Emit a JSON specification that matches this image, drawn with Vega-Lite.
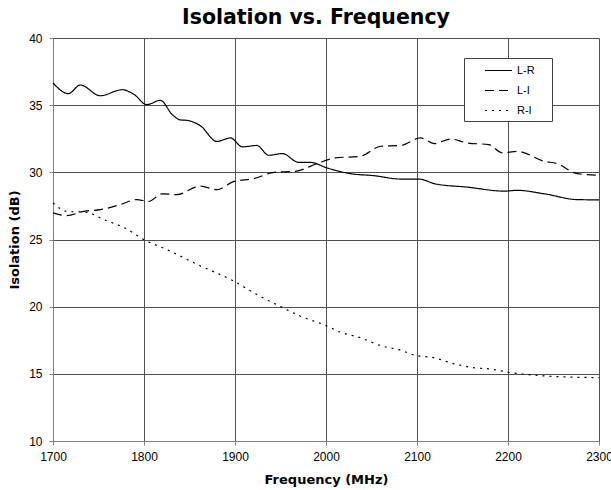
{
  "$schema": "https://vega.github.io/schema/vega-lite/v6.json",
  "width": 546,
  "height": 403,
  "autosize": "none",
  "padding": {"left": 53, "top": 38, "right": 12, "bottom": 49},
  "background": "white",
  "title": {
    "text": "Isolation vs. Frequency",
    "font": "DejaVu Sans",
    "fontSize": 20.5,
    "fontWeight": "bold",
    "color": "black",
    "anchor": "middle",
    "baseline": "top",
    "offset": 4,
    "dx": -10
  },
  "config": {
    "view": {"stroke": null},
    "axis": {
      "labelFont": "Liberation Sans",
      "labelFontSize": 12,
      "labelColor": "black",
      "titleFont": "DejaVu Sans",
      "titleFontSize": 13,
      "titleFontWeight": "bold",
      "titleColor": "black",
      "gridColor": "#505050",
      "gridOpacity": 1,
      "gridWidth": 1,
      "domainColor": "#808080",
      "tickColor": "#808080",
      "tickSize": 4
    }
  },
  "data": {
    "values": [
      {"f": 1700, "v": 36.65, "s": "L-R"}, {"f": 1717, "v": 35.86, "s": "L-R"}, {"f": 1730, "v": 36.5, "s": "L-R"},
      {"f": 1752, "v": 35.7, "s": "L-R"}, {"f": 1776, "v": 36.15, "s": "L-R"}, {"f": 1789, "v": 35.8, "s": "L-R"},
      {"f": 1803, "v": 35.04, "s": "L-R"}, {"f": 1818, "v": 35.36, "s": "L-R"}, {"f": 1831, "v": 34.3, "s": "L-R"},
      {"f": 1840, "v": 33.9, "s": "L-R"}, {"f": 1847, "v": 33.87, "s": "L-R"}, {"f": 1862, "v": 33.47, "s": "L-R"},
      {"f": 1880, "v": 32.3, "s": "L-R"}, {"f": 1895, "v": 32.56, "s": "L-R"}, {"f": 1908, "v": 31.9, "s": "L-R"},
      {"f": 1924, "v": 32.0, "s": "L-R"}, {"f": 1937, "v": 31.27, "s": "L-R"}, {"f": 1952, "v": 31.4, "s": "L-R"},
      {"f": 1970, "v": 30.74, "s": "L-R"}, {"f": 1983, "v": 30.74, "s": "L-R"}, {"f": 2001, "v": 30.33, "s": "L-R"},
      {"f": 2027, "v": 29.9, "s": "L-R"}, {"f": 2053, "v": 29.75, "s": "L-R"}, {"f": 2082, "v": 29.5, "s": "L-R"},
      {"f": 2102, "v": 29.5, "s": "L-R"}, {"f": 2120, "v": 29.14, "s": "L-R"}, {"f": 2155, "v": 28.9, "s": "L-R"},
      {"f": 2196, "v": 28.6, "s": "L-R"}, {"f": 2210, "v": 28.66, "s": "L-R"}, {"f": 2240, "v": 28.4, "s": "L-R"},
      {"f": 2276, "v": 27.97, "s": "L-R"}, {"f": 2300, "v": 27.95, "s": "L-R"},

      {"f": 1700, "v": 26.98, "s": "L-I"}, {"f": 1715, "v": 26.78, "s": "L-I"}, {"f": 1734, "v": 27.1, "s": "L-I"},
      {"f": 1752, "v": 27.22, "s": "L-I"}, {"f": 1774, "v": 27.6, "s": "L-I"}, {"f": 1792, "v": 27.97, "s": "L-I"},
      {"f": 1805, "v": 27.84, "s": "L-I"}, {"f": 1820, "v": 28.4, "s": "L-I"}, {"f": 1836, "v": 28.34, "s": "L-I"},
      {"f": 1862, "v": 28.98, "s": "L-I"}, {"f": 1880, "v": 28.71, "s": "L-I"}, {"f": 1899, "v": 29.33, "s": "L-I"},
      {"f": 1921, "v": 29.53, "s": "L-I"}, {"f": 1943, "v": 30.0, "s": "L-I"}, {"f": 1966, "v": 30.07, "s": "L-I"},
      {"f": 1990, "v": 30.65, "s": "L-I"}, {"f": 2010, "v": 31.07, "s": "L-I"}, {"f": 2038, "v": 31.2, "s": "L-I"},
      {"f": 2060, "v": 31.94, "s": "L-I"}, {"f": 2082, "v": 32.0, "s": "L-I"}, {"f": 2104, "v": 32.56, "s": "L-I"},
      {"f": 2119, "v": 32.14, "s": "L-I"}, {"f": 2137, "v": 32.48, "s": "L-I"}, {"f": 2155, "v": 32.19, "s": "L-I"},
      {"f": 2179, "v": 32.06, "s": "L-I"}, {"f": 2194, "v": 31.44, "s": "L-I"}, {"f": 2210, "v": 31.56, "s": "L-I"},
      {"f": 2240, "v": 30.82, "s": "L-I"}, {"f": 2254, "v": 30.65, "s": "L-I"}, {"f": 2276, "v": 29.9, "s": "L-I"},
      {"f": 2300, "v": 29.78, "s": "L-I"},

      {"f": 1700, "v": 27.72, "s": "R-I"}, {"f": 1715, "v": 27.1, "s": "R-I"}, {"f": 1737, "v": 27.02, "s": "R-I"},
      {"f": 1756, "v": 26.48, "s": "R-I"}, {"f": 1779, "v": 25.86, "s": "R-I"}, {"f": 1800, "v": 24.99, "s": "R-I"},
      {"f": 1825, "v": 24.25, "s": "R-I"}, {"f": 1860, "v": 23.1, "s": "R-I"}, {"f": 1899, "v": 21.89, "s": "R-I"},
      {"f": 1924, "v": 20.9, "s": "R-I"}, {"f": 1948, "v": 20.08, "s": "R-I"}, {"f": 1972, "v": 19.29, "s": "R-I"},
      {"f": 1999, "v": 18.62, "s": "R-I"}, {"f": 2016, "v": 18.1, "s": "R-I"}, {"f": 2038, "v": 17.68, "s": "R-I"},
      {"f": 2060, "v": 17.1, "s": "R-I"}, {"f": 2082, "v": 16.76, "s": "R-I"}, {"f": 2098, "v": 16.38, "s": "R-I"},
      {"f": 2119, "v": 16.19, "s": "R-I"}, {"f": 2137, "v": 15.82, "s": "R-I"}, {"f": 2159, "v": 15.49, "s": "R-I"},
      {"f": 2185, "v": 15.32, "s": "R-I"}, {"f": 2200, "v": 15.12, "s": "R-I"}, {"f": 2229, "v": 14.9, "s": "R-I"},
      {"f": 2258, "v": 14.78, "s": "R-I"}, {"f": 2300, "v": 14.72, "s": "R-I"}
    ]
  },
  "mark": {"type": "line", "color": "black", "strokeWidth": 1.2, "interpolate": "monotone"},
  "encoding": {
    "x": {
      "field": "f",
      "type": "quantitative",
      "scale": {"domain": [1700, 2300], "nice": false, "zero": false},
      "axis": {"title": "Frequency (MHz)", "format": "d", "values": [1700, 1800, 1900, 2000, 2100, 2200, 2300], "labelPadding": 6, "titlePadding": 11, "labelFlush": false}
    },
    "y": {
      "field": "v",
      "type": "quantitative",
      "scale": {"domain": [10, 40], "nice": false, "zero": false},
      "axis": {"title": "Isolation (dB)", "format": "d", "values": [10, 15, 20, 25, 30, 35, 40], "labelPadding": 7, "titlePadding": 7, "labelFlush": false}
    },
    "strokeDash": {
      "field": "s",
      "type": "nominal",
      "scale": {"domain": ["L-R", "L-I", "R-I"], "range": [[1, 0], [9, 5], [2, 5]]},
      "legend": {
        "title": null,
        "orient": "none",
        "legendX": 411,
        "legendY": 20,
        "direction": "vertical",
        "strokeColor": "#404040",
        "fillColor": "white",
        "padding": 5,
        "symbolType": "M-2,0H2",
        "symbolSize": 182,
        "symbolStrokeColor": "black",
        "symbolStrokeWidth": 1.2,
        "symbolOffset": 22,
        "labelFont": "Liberation Sans",
        "labelFontSize": 11,
        "labelColor": "black",
        "labelOffset": 11,
        "rowPadding": 7,
        "labelExpr": "datum.label + '\u00a0\u00a0\u00a0\u00a0\u200b'"
      }
    }
  }
}
